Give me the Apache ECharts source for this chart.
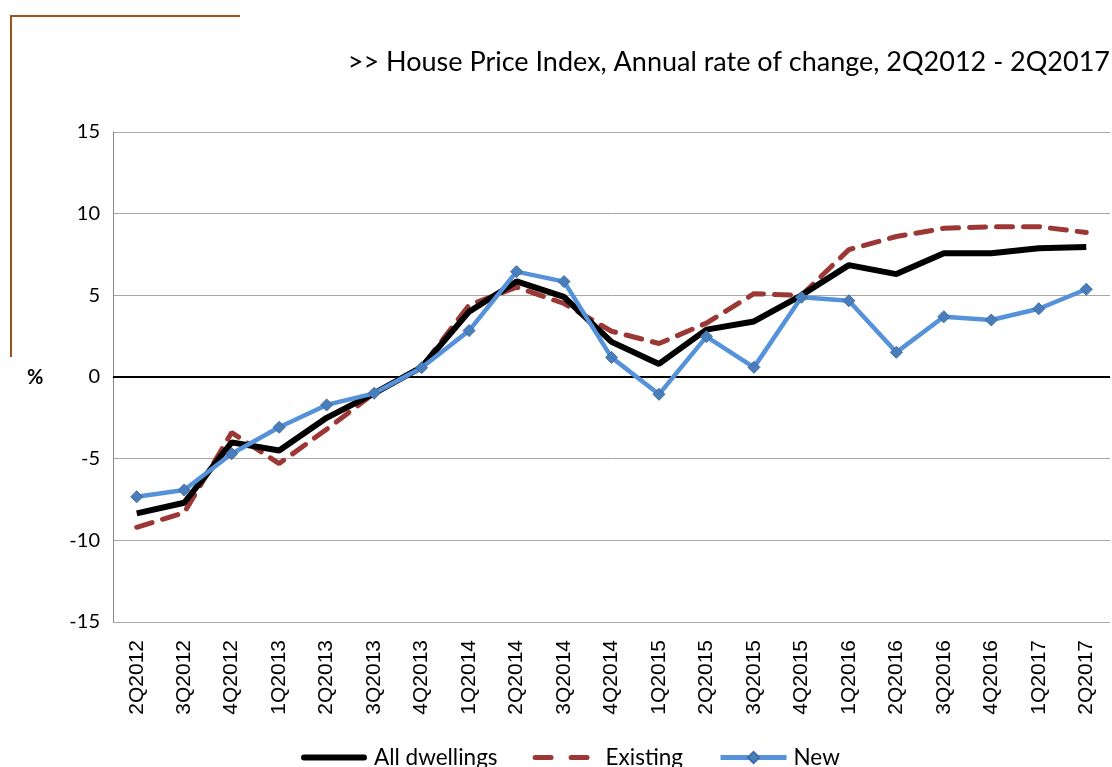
<!DOCTYPE html>
<html><head><meta charset="utf-8">
<script src="https://cdn.jsdelivr.net/npm/echarts@6/dist/echarts.min.js"></script>
<style>html,body{margin:0;padding:0;background:#fff}#c{width:1112px;height:767px}</style>
</head><body><div id="c"></div>
<script>
const categories = ['2Q2012','3Q2012','4Q2012','1Q2013','2Q2013','3Q2013','4Q2013','1Q2014','2Q2014','3Q2014','4Q2014','1Q2015','2Q2015','3Q2015','4Q2015','1Q2016','2Q2016','3Q2016','4Q2016','1Q2017','2Q2017'];
const allDwellings = [-8.35,-7.7,-4.0,-4.5,-2.5,-1.0,0.6,4.0,5.85,4.9,2.15,0.8,2.9,3.4,5.0,6.85,6.3,7.57,7.57,7.88,7.96];
const existing = [-9.2,-8.3,-3.4,-5.3,-3.2,-1.0,0.6,4.4,5.5,4.5,2.8,2.05,3.3,5.1,5.0,7.8,8.6,9.1,9.2,9.2,8.85];
const newDw = [-7.33,-6.92,-4.7,-3.08,-1.71,-1.0,0.57,2.84,6.45,5.84,1.2,-1.06,2.47,0.59,4.88,4.67,1.51,3.69,3.49,4.18,5.37];
const yTicks = {min:-15, max:15, interval:5};
const titleText = '>> House Price Index, Annual rate of change, 2Q2012 - 2Q2017';

const chart = echarts.init(document.getElementById('c'), null, {renderer:'canvas'});
const font = 'Lato, "Open Sans", sans-serif';
const cBlack = '#000', cRed = '#9b3836', cBlue = '#5592d9';
chart.setOption({
  animation:false,
  title:{text:titleText, right:-3, top:44, textStyle:{fontFamily:font, fontSize:27, fontWeight:'normal', color:'#000'}},
  graphic:[
    {type:'line', shape:{x1:10,y1:16,x2:240,y2:16}, style:{stroke:'#a0521a', lineWidth:2}},
    {type:'line', shape:{x1:11,y1:16,x2:11,y2:357}, style:{stroke:'#a0521a', lineWidth:2}},
    {type:'text', left:27, top:368, style:{text:'%', font:'bold 20px '+font, fill:'#000'}}
  ],
  legend:{bottom:-7, left:296, itemGap:35, itemWidth:66, itemHeight:14,
    textStyle:{fontFamily:font, fontSize:22.5, color:'#000', padding:[0,0,0,2]},
    data:[
      {name:'All dwellings', icon:'path://M3,0H63A3,3 0 0 1 63,6H3A3,3 0 0 1 3,0Z', itemStyle:{color:cBlack}},
      {name:'Existing', icon:'path://M0,0L0,0M2.5,0H18.5A2.5,2.5 0 0 1 18.5,5H2.5A2.5,2.5 0 0 1 2.5,0Z M38.5,0H54.5A2.5,2.5 0 0 1 54.5,5H38.5A2.5,2.5 0 0 1 38.5,0Z M66,0L66,0', itemStyle:{color:cRed}},
      {name:'New', lineStyle:{width:5, color:cBlue}}
    ]},
  grid:{left:113, right:2, top:132, bottom:145},
  xAxis:{type:'category', data:categories, boundaryGap:true,
    axisLine:{lineStyle:{color:'#868686', width:1}}, axisTick:{show:false},
    axisLabel:{rotate:90, margin:18, fontSize:21, fontFamily:'"Liberation Sans", Arial, sans-serif', color:'#000', interval:0}},
  yAxis:{type:'value', min:yTicks.min, max:yTicks.max, interval:yTicks.interval,
    axisLine:{show:true, lineStyle:{color:'#868686', width:1}}, axisTick:{show:false},
    splitLine:{lineStyle:{color:'#a6a6a6', width:1}},
    axisLabel:{margin:13, fontSize:20, fontFamily:font, color:'#000'}},
  series:[
    {name:'All dwellings', type:'line', data:allDwellings, symbol:'none', z:3,
      lineStyle:{color:cBlack, width:6}, itemStyle:{color:cBlack},
      markLine:{silent:true, symbol:'none', label:{show:false}, lineStyle:{color:'#000', width:2, type:'solid'}, data:[{yAxis:0}], z:1}},
    {name:'Existing', type:'line', data:existing, symbol:'none', z:2,
      lineStyle:{color:cRed, width:5, type:[16,11], cap:'round'}, itemStyle:{color:cRed}},
    {name:'New', type:'line', data:newDw, symbol:'diamond', symbolSize:12, z:4,
      lineStyle:{color:cBlue, width:4.5}, itemStyle:{color:'#4a7ebb', borderColor:'#3d6da6', borderWidth:1}}
  ]
});
</script></body></html>
